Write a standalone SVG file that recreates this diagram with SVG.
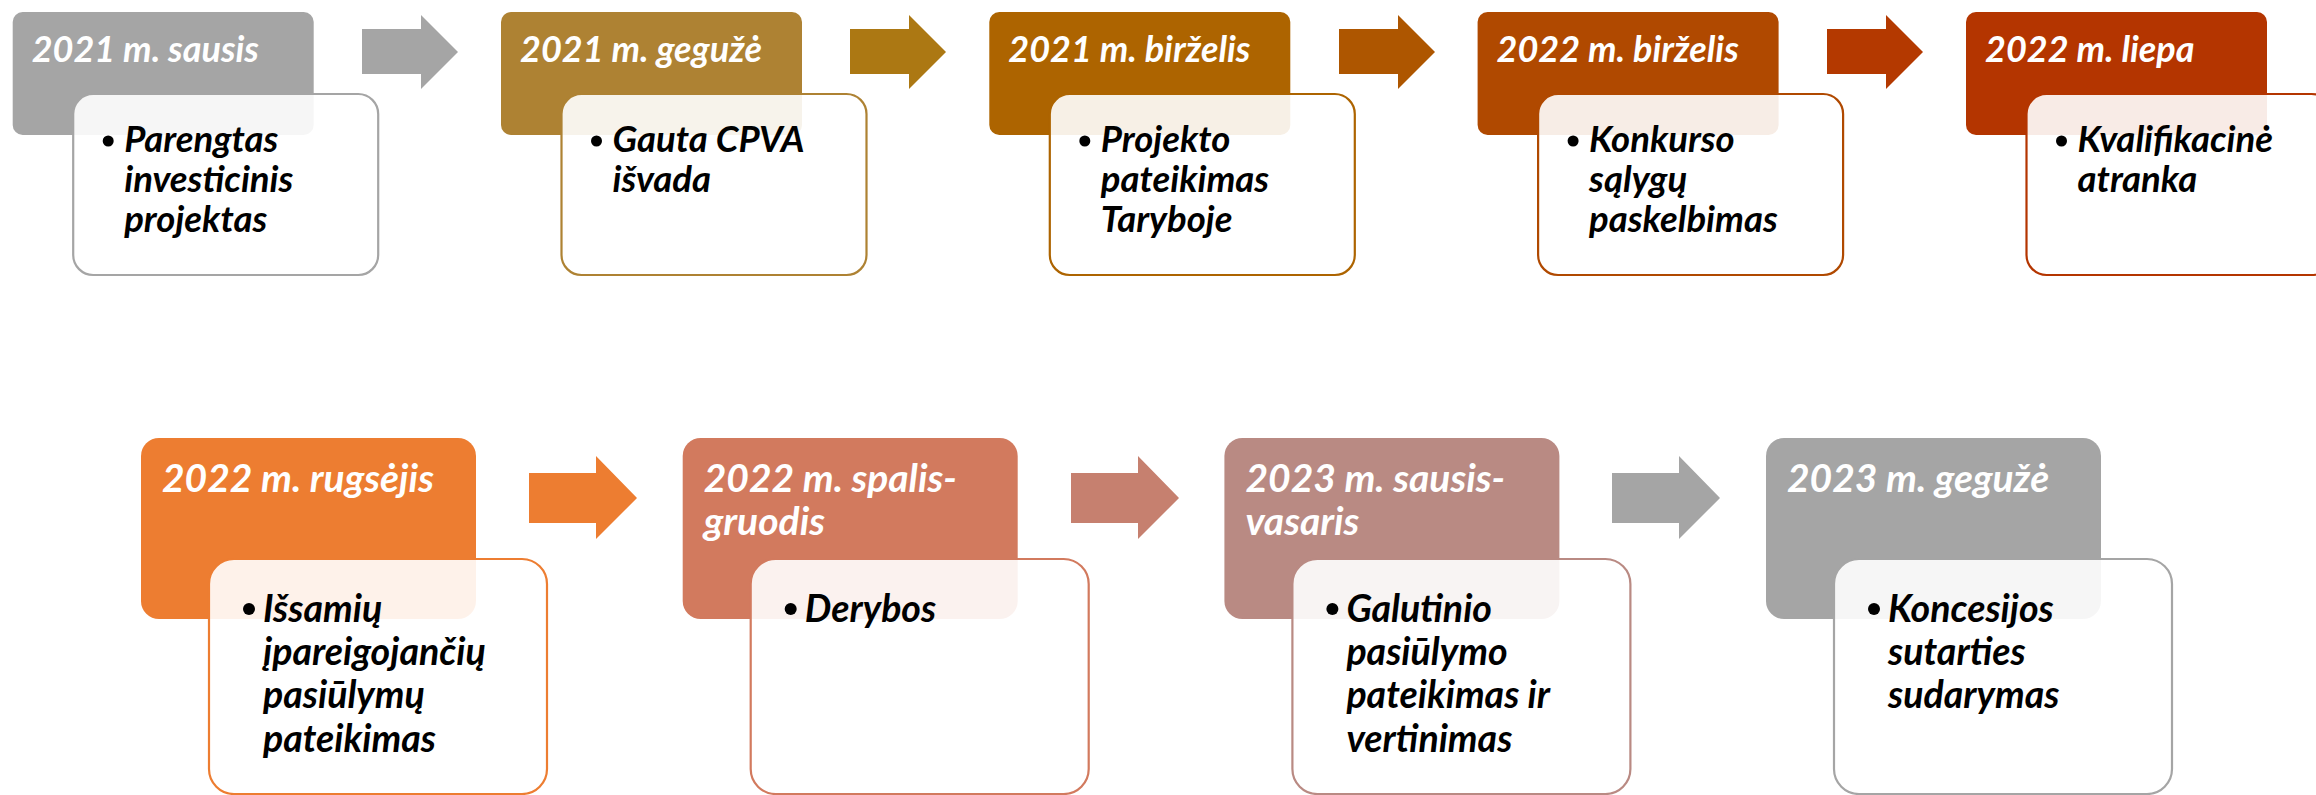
<svg xmlns="http://www.w3.org/2000/svg" width="2316" height="795" viewBox="0 0 2316 795">
<style>
.hd{font-family:Lato,"Open Sans","Liberation Sans",sans-serif;font-weight:700;font-style:italic;fill:#FFFFFF}
.bd{font-family:Lato,"Open Sans","Liberation Sans",sans-serif;font-weight:700;font-style:italic;fill:#000000}
.h1{font-size:36px}
.b1{font-size:36.5px}
.h2{font-size:39px}
.b2{font-size:37.5px}
.body{fill:#FFFFFF;fill-opacity:0.9;stroke-width:2.2}
</style>
<rect width="2316" height="795" fill="#FFFFFF"/>
<g id="connectors">
<polygon points="362,29 421,29 421,15 458,52 421,89 421,74 362,74" fill="#A5A5A5"/>
<polygon points="850,29 909,29 909,15 946,52 909,89 909,74 850,74" fill="#AC7813"/>
<polygon points="1339,29 1398,29 1398,15 1435,52 1398,89 1398,74 1339,74" fill="#AE5600"/>
<polygon points="1827,29 1886,29 1886,15 1923,52 1886,89 1886,74 1827,74" fill="#B43900"/>
<polygon points="529,473 596,473 596,456 637,498 596,539 596,523 529,523" fill="#ED7D31"/>
<polygon points="1071,473 1138,473 1138,456 1179,498 1138,539 1138,523 1071,523" fill="#C6806F"/>
<polygon points="1612,473 1679,473 1679,456 1720,498 1679,539 1679,523 1612,523" fill="#A5A5A5"/>
</g>
<g id="n1">
<rect x="12.7" y="12" width="301" height="123" rx="10" fill="#A5A5A5"/>
<rect class="body" x="73.2" y="94" width="305" height="181" rx="20" stroke="#A5A5A5"/>
<text class="hd h1" x="31.7" y="62">2021 m. sausis</text>
<circle cx="108.2" cy="141" r="5.5"/>
<text class="bd b1" x="124.2" y="152">Parengtas</text>
<text class="bd b1" x="124.2" y="192">investicinis</text>
<text class="bd b1" x="124.2" y="232">projektas</text>
</g>
<g id="n2">
<rect x="501" y="12" width="301" height="123" rx="10" fill="#AE8233"/>
<rect class="body" x="561.5" y="94" width="305" height="181" rx="20" stroke="#AE8233"/>
<text class="hd h1" x="520" y="62">2021 m. gegužė</text>
<circle cx="596.5" cy="141" r="5.5"/>
<text class="bd b1" x="612.5" y="152">Gauta CPVA</text>
<text class="bd b1" x="612.5" y="192">išvada</text>
</g>
<g id="n3">
<rect x="989.3" y="12" width="301" height="123" rx="10" fill="#AD6400"/>
<rect class="body" x="1049.8" y="94" width="305" height="181" rx="20" stroke="#AD6400"/>
<text class="hd h1" x="1008.3" y="62">2021 m. birželis</text>
<circle cx="1084.8" cy="141" r="5.5"/>
<text class="bd b1" x="1100.8" y="152">Projekto</text>
<text class="bd b1" x="1100.8" y="192">pateikimas</text>
<text class="bd b1" x="1100.8" y="232">Taryboje</text>
</g>
<g id="n4">
<rect x="1477.6" y="12" width="301" height="123" rx="10" fill="#B04900"/>
<rect class="body" x="1538.1" y="94" width="305" height="181" rx="20" stroke="#B04900"/>
<text class="hd h1" x="1496.6" y="62">2022 m. birželis</text>
<circle cx="1573.1" cy="141" r="5.5"/>
<text class="bd b1" x="1589.1" y="152">Konkurso</text>
<text class="bd b1" x="1589.1" y="192">sąlygų</text>
<text class="bd b1" x="1589.1" y="232">paskelbimas</text>
</g>
<g id="n5">
<rect x="1966" y="12" width="301" height="123" rx="10" fill="#B43500"/>
<rect class="body" x="2026.5" y="94" width="305" height="181" rx="20" stroke="#B43500"/>
<text class="hd h1" x="1985" y="62">2022 m. liepa</text>
<circle cx="2061.5" cy="141" r="5.5"/>
<text class="bd b1" x="2077.5" y="152">Kvalifikacinė</text>
<text class="bd b1" x="2077.5" y="192">atranka</text>
</g>
<g id="n6">
<rect x="141" y="438" width="335" height="181" rx="18" fill="#ED7D31"/>
<rect class="body" x="209" y="559" width="338" height="235" rx="25" stroke="#ED7D31"/>
<text class="hd h2" x="162" y="492">2022 m. rugsėjis</text>
<circle cx="249" cy="609" r="6"/>
<text class="bd b2" x="263" y="622">Išsamių</text>
<text class="bd b2" x="263" y="665">įpareigojančių</text>
<text class="bd b2" x="263" y="708">pasiūlymų</text>
<text class="bd b2" x="263" y="752">pateikimas</text>
</g>
<g id="n7">
<rect x="682.7" y="438" width="335" height="181" rx="18" fill="#D27A5E"/>
<rect class="body" x="750.7" y="559" width="338" height="235" rx="25" stroke="#D27A5E"/>
<text class="hd h2" x="703.7" y="492">2022 m. spalis-</text>
<text class="hd h2" x="703.7" y="535">gruodis</text>
<circle cx="790.7" cy="609" r="6"/>
<text class="bd b2" x="804.7" y="622">Derybos</text>
</g>
<g id="n8">
<rect x="1224.4" y="438" width="335" height="181" rx="18" fill="#B98A83"/>
<rect class="body" x="1292.4" y="559" width="338" height="235" rx="25" stroke="#B98A83"/>
<text class="hd h2" x="1245.4" y="492">2023 m. sausis-</text>
<text class="hd h2" x="1245.4" y="535">vasaris</text>
<circle cx="1332.4" cy="609" r="6"/>
<text class="bd b2" x="1346.4" y="622">Galutinio</text>
<text class="bd b2" x="1346.4" y="665">pasiūlymo</text>
<text class="bd b2" x="1346.4" y="708">pateikimas ir</text>
<text class="bd b2" x="1346.4" y="752">vertinimas</text>
</g>
<g id="n9">
<rect x="1766" y="438" width="335" height="181" rx="18" fill="#A5A5A5"/>
<rect class="body" x="1834" y="559" width="338" height="235" rx="25" stroke="#A5A5A5"/>
<text class="hd h2" x="1787" y="492">2023 m. gegužė</text>
<circle cx="1874" cy="609" r="6"/>
<text class="bd b2" x="1888" y="622">Koncesijos</text>
<text class="bd b2" x="1888" y="665">sutarties</text>
<text class="bd b2" x="1888" y="708">sudarymas</text>
</g>
</svg>
